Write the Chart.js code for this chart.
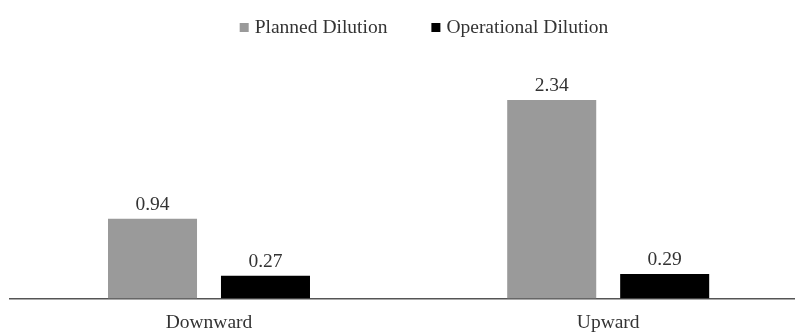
<!DOCTYPE html>
<html>
<head>
<meta charset="utf-8">
<script src="https://cdn.jsdelivr.net/npm/chart.js@4"></script>
<style>
  html, body { margin: 0; padding: 0; background: #fff; overflow: hidden; }
  #wrap { width: 818px; height: 332px; }
</style>
</head>
<body>
<div id="wrap"><canvas id="myChart" width="818" height="332"></canvas></div>
<script>
const categories = ['Downward', 'Upward'];
const plannedDilution = [0.94, 2.34];
const operationalDilution = [0.27, 0.29];
const seriesNames = ['Planned Dilution', 'Operational Dilution'];

const FONT = '"Liberation Serif", "Times New Roman", serif';
const TEXT_COLOR = '#333333';

// value labels above each bar
const valueLabels = {
    id: 'valueLabels',
    afterDatasetsDraw(chart) {
        const ctx = chart.ctx;
        ctx.save();
        ctx.font = '19.5px ' + FONT;
        ctx.fillStyle = TEXT_COLOR;
        ctx.textAlign = 'center';
        ctx.textBaseline = 'alphabetic';
        chart.data.datasets.forEach((ds, i) => {
            chart.getDatasetMeta(i).data.forEach((bar, j) => {
                ctx.fillText(ds.data[j].toFixed(2), bar.x, bar.y - 9);
            });
        });
        ctx.restore();
    }
};

// legend row drawn at the top, centred like the original
const topLegend = {
    id: 'topLegend',
    afterDraw(chart) {
        const ctx = chart.ctx;
        const box = 9, gap = 6, spacing = 44, centerX = 424, baseline = 33;
        ctx.save();
        ctx.font = '19.5px ' + FONT;
        const widths = chart.data.datasets.map(ds => ctx.measureText(ds.label).width);
        let total = 0;
        widths.forEach((w, i) => { total += box + gap + w + (i > 0 ? spacing : 0); });
        let x = centerX - total / 2;
        chart.data.datasets.forEach((ds, i) => {
            ctx.fillStyle = ds.backgroundColor;
            ctx.fillRect(x, baseline - 10, box, box);
            ctx.fillStyle = TEXT_COLOR;
            ctx.textBaseline = 'alphabetic';
            ctx.fillText(ds.label, x + box + gap, baseline);
            x += box + gap + widths[i] + spacing;
        });
        ctx.restore();
    }
};

const data = {
    labels: categories,
    datasets: [{
        label: seriesNames[0],
        data: plannedDilution,
        backgroundColor: '#9a9a9a'
    }, {
        label: seriesNames[1],
        data: operationalDilution,
        backgroundColor: '#000000'
    }]
};

const config = {
    type: 'bar',
    data,
    options: {
        responsive: false,
        animation: false,
        categoryPercentage: 0.566,
        barPercentage: 0.788,
        layout: {
            padding: { left: 9.4, right: 10.2, top: 61, bottom: -8 }
        },
        plugins: {
            legend: { display: false },
            tooltip: { enabled: false }
        },
        scales: {
            x: {
                grid: { display: false },
                border: { display: true, color: '#555555', width: 1.5 },
                ticks: {
                    color: TEXT_COLOR,
                    padding: 5,
                    font: { family: FONT, size: 19.5 }
                }
            },
            y: {
                display: false,
                min: 0,
                max: 2.8
            }
        }
    },
    plugins: [valueLabels, topLegend]
};

const myChart = new Chart(document.getElementById('myChart'), config);
</script>
</body>
</html>
